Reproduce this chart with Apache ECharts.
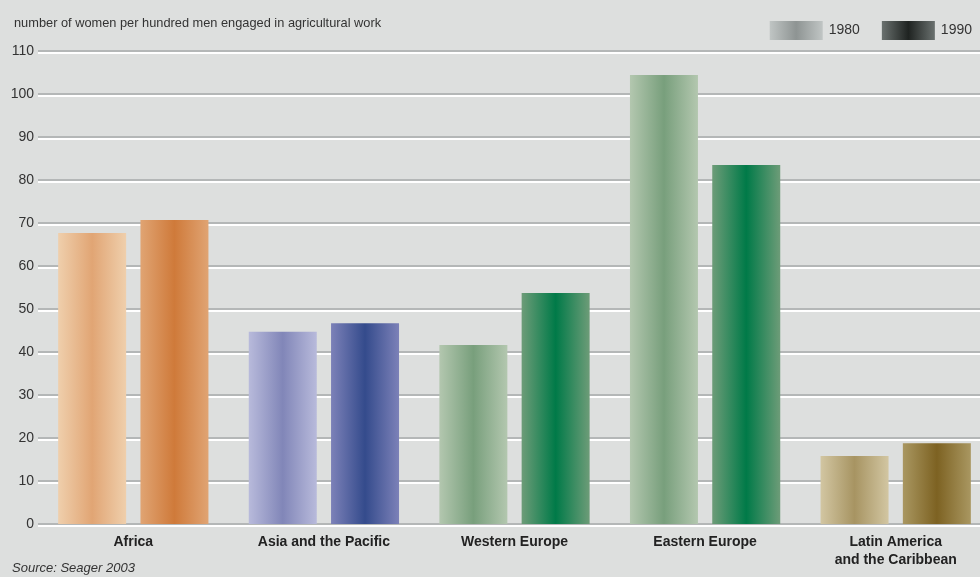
<!DOCTYPE html>
<html><head><meta charset="utf-8">
<script src="https://cdn.jsdelivr.net/npm/echarts@6/dist/echarts.min.js"></script>
<style>html,body{margin:0;padding:0;background:#dddfde;overflow:hidden}#c{width:991px;height:577px}</style>
</head><body><div id="c"></div>
<script>
const categories = ['Africa', 'Asia and the Pacific', 'Western Europe', 'Eastern Europe', 'Latin America\nand the Caribbean'];
const values1980 = [67.7, 44.7, 41.6, 104.4, 15.8];
const values1990 = [70.7, 46.7, 53.7, 83.5, 18.8];
const yTicks = [0, 10, 20, 30, 40, 50, 60, 70, 80, 90, 100, 110];
const seriesNames = ['1980', '1990'];

const FONT = '"Liberation Sans Narrow", "Liberation Sans", Arial, sans-serif';
function grad(edge, mid) {
  return new echarts.graphic.LinearGradient(0, 0, 1, 0, [
    { offset: 0, color: edge }, { offset: 0.5, color: mid }, { offset: 1, color: edge }
  ]);
}
const colors1980 = [['#efcfac', '#e1a574'], ['#b8badb', '#8186b8'], ['#b3c7af', '#789f7c'], ['#b3c7af', '#789f7c'], ['#d2c6a2', '#a79462']];
const colors1990 = [['#e0a473', '#cf7a3a'], ['#7c81b8', '#344b8c'], ['#6d9c78', '#007a48'], ['#6d9c78', '#007a48'], ['#a99761', '#7d6222']];

const chart = echarts.init(document.getElementById('c'));
chart.setOption({
  backgroundColor: '#dddfde',
  animation: false,
  textStyle: { fontFamily: FONT },
  title: [
    { text: 'number of women per hundred men engaged in agricultural work', left: 9, top: 12,
      textStyle: { fontSize: 12.8, fontWeight: 'normal', color: '#333', fontFamily: FONT } },
    { text: 'Source: Seager 2003', left: 7, top: 557,
      textStyle: { fontSize: 13, fontWeight: 'normal', fontStyle: 'italic', color: '#333', fontFamily: FONT } }
  ],
  legend: {
    right: 14, top: 16, itemWidth: 53, itemHeight: 19, itemGap: 22,
    icon: 'rect',
    textStyle: { fontSize: 14, color: '#333', fontFamily: FONT, padding: [0, 0, 0, 1] },
    data: seriesNames
  },
  grid: { left: 38, right: 0, top: 51, bottom: 53 },
  xAxis: {
    type: 'category', data: categories,
    axisTick: { show: false },
    axisLine: { show: false },
    axisLabel: { fontSize: 14, fontWeight: 'bold', color: '#222', margin: 9, lineHeight: 18, fontFamily: FONT, interval: 0 }
  },
  yAxis: {
    type: 'value', min: 0, max: 110, interval: 10,
    axisLine: { show: false }, axisTick: { show: false },
    axisLabel: { fontSize: 14, color: '#333', margin: 4, fontFamily: FONT,
      formatter: v => yTicks.includes(v) ? String(v) : '' },
    splitLine: { lineStyle: { color: '#b4b7b7', width: 2, shadowColor: '#ffffff', shadowOffsetY: 2, shadowBlur: 0 } }
  },
  series: [
    { name: seriesNames[0], type: 'bar', barWidth: 68, barGap: '21%',
      itemStyle: { color: grad('#c0c5c4', '#8e9493') },
      data: values1980.map((v, i) => ({ value: v, itemStyle: { color: grad(colors1980[i][0], colors1980[i][1]) } })) },
    { name: seriesNames[1], type: 'bar', barWidth: 68, barGap: '21%',
      itemStyle: { color: grad('#6a716f', '#1f2321') },
      data: values1990.map((v, i) => ({ value: v, itemStyle: { color: grad(colors1990[i][0], colors1990[i][1]) } })) }
  ]
});
</script></body></html>
